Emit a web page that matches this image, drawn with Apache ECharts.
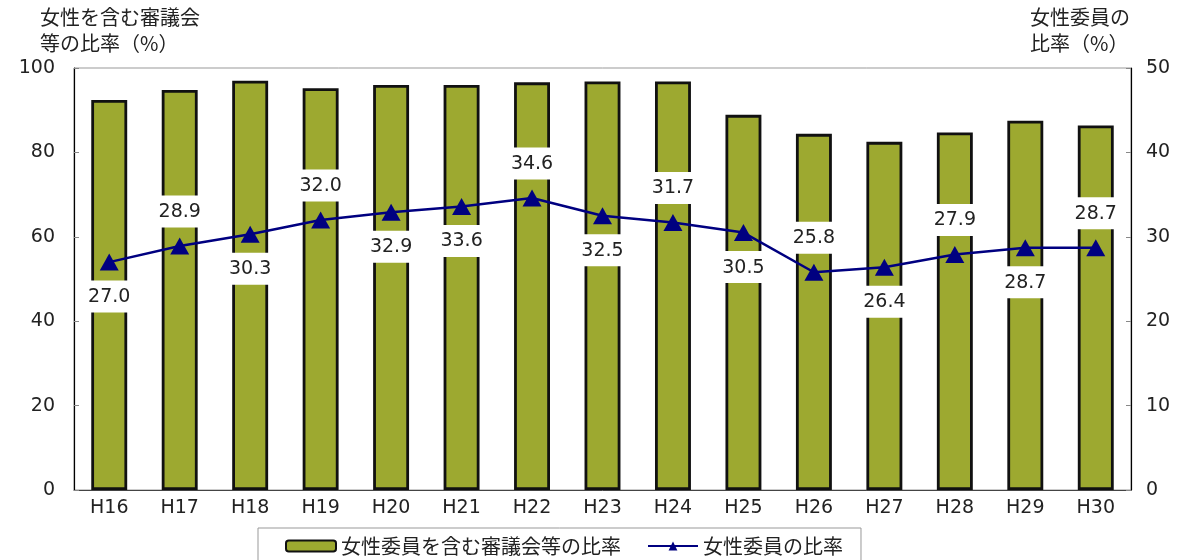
<!DOCTYPE html>
<html>
<head>
<meta charset="utf-8">
<script src="https://cdn.jsdelivr.net/npm/echarts@6/dist/echarts.min.js"></script>
<style>
html,body{margin:0;padding:0;background:#fff;}
#chart{width:1186px;height:560px;}
</style>
</head>
<body>
<div id="chart"></div>
<script>
const categories = ['H16','H17','H18','H19','H20','H21','H22','H23','H24','H25','H26','H27','H28','H29','H30'];
const councilRatio = [92.4, 94.8, 97.0, 95.2, 96.0, 96.0, 96.6, 96.8, 96.8, 88.9, 84.4, 82.5, 84.7, 87.5, 86.4];
const womenRatio = [27.0, 28.9, 30.3, 32.0, 32.9, 33.6, 34.6, 32.5, 31.7, 30.5, 25.8, 26.4, 27.9, 28.7, 28.7];
const labelSide = ['bottom','top','bottom','top','bottom','bottom','top','bottom','top','bottom','top','bottom','top','bottom','top'];
const seriesNames = ['女性委員を含む審議会等の比率', '女性委員の比率'];
const leftTitle = '女性を含む審議会\n等の比率（%）';
const rightTitle = '女性委員の\n比率（%）';

const numFont = 'DejaVu Sans, "Noto Sans CJK JP", sans-serif';
const jpFont = '"Noto Sans CJK JP", "DejaVu Sans", sans-serif';

const chart = echarts.init(document.getElementById('chart'));
chart.setOption({
  animation: false,
  backgroundColor: '#fff',
  grid: { left: 74, right: 55, top: 68, bottom: 70, show: true, borderColor: '#999', borderWidth: 1 },
  graphic: [
    { type: 'text', left: 40, top: 4, style: { text: leftTitle, font: '20px ' + jpFont, fill: '#222', lineHeight: 26 } },
    { type: 'text', left: 1030, top: 4, style: { text: rightTitle, font: '20px ' + jpFont, fill: '#222', lineHeight: 26 } }
  ],
  legend: {
    left: 258, top: 528,
    padding: [8, 18, 10, 27],
    backgroundColor: '#fff',
    borderColor: '#999', borderWidth: 1,
    itemWidth: 50, itemHeight: 11, itemGap: 26,
    textStyle: { fontSize: 20, fontFamily: jpFont, color: '#222' },
    data: seriesNames
  },
  xAxis: {
    type: 'category',
    data: categories,
    axisLine: { lineStyle: { color: '#444', width: 1 } },
    axisTick: { inside: true, length: 5, lineStyle: { color: '#888' } },
    axisLabel: { fontSize: 19, fontFamily: numFont, color: '#222', margin: 9 }
  },
  yAxis: [
    {
      type: 'value', min: 0, max: 100, interval: 20,
      axisLine: { show: true, lineStyle: { color: '#000', width: 1.2 } },
      axisTick: { show: true, inside: true, length: 5, lineStyle: { color: '#888' } },
      axisLabel: { fontSize: 19, fontFamily: numFont, color: '#222', margin: 19 },
      splitLine: { show: false }
    },
    {
      type: 'value', min: 0, max: 50, interval: 10,
      axisLine: { show: true, lineStyle: { color: '#000', width: 1.2 } },
      axisTick: { show: true, inside: true, length: 5, lineStyle: { color: '#888' } },
      axisLabel: { fontSize: 19, fontFamily: numFont, color: '#222', margin: 15 },
      splitLine: { show: false }
    }
  ],
  series: [
    {
      name: seriesNames[0],
      type: 'bar',
      yAxisIndex: 0,
      barWidth: '51%',
      data: councilRatio,
      itemStyle: { color: '#9DA930', borderColor: '#111', borderWidth: 2.8 }
    },
    {
      name: seriesNames[1],
      type: 'line',
      yAxisIndex: 1,
      symbol: 'triangle',
      symbolSize: [19, 17],
      data: womenRatio.map((v, i) => ({
        value: v,
        label: { position: labelSide[i] }
      })),
      lineStyle: { color: '#000080', width: 2.5 },
      itemStyle: { color: '#000080' },
      label: {
        show: true,
        distance: 10,
        formatter: p => p.value.toFixed(1),
        fontSize: 19,
        fontFamily: numFont,
        color: '#222',
        backgroundColor: '#fff',
        padding: [7, 4, 6, 4]
      },
      z: 5
    }
  ]
});
</script>
</body>
</html>
